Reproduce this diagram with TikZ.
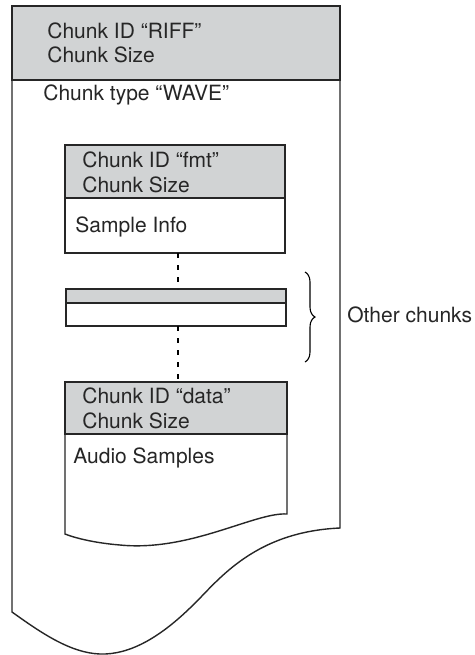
\documentclass[tikz,border=0pt]{standalone}
\usepackage{fontspec}
\setmainfont{TeX Gyre Heros}
\usetikzlibrary{decorations.pathreplacing}
\definecolor{hdrgray}{RGB}{209,211,212}
\tikzset{
  hdr/.style={fill=hdrgray, draw=black!85, line width=0.8pt},
  body/.style={fill=white, draw=black!85, line width=0.7pt},
  lbl/.style={anchor=base west, inner sep=0pt, font=\fontsize{10.5}{12}\selectfont, text=black!85},
  gap/.style={dash pattern=on 2.5pt off 3.5pt, line width=0.6pt},
}
\begin{document}
\begin{tikzpicture}[x=0.5pt,y=-0.5pt]
\useasboundingbox (0,0) rectangle (475,655);
% outer RIFF chunk
\draw[body] (12,80) -- (340,80) -- (340,528)
  .. controls (250,532) and (215,585) .. (190,608)
  .. controls (160,637) and (130,655) .. (100,654)
  .. controls (70,653) and (40,632) .. (12,612) -- cycle;
\draw[hdr] (12,6) rectangle (340,80);
\node[lbl] (riffid) at (47,38) {Chunk ID “RIFF”};
\node[lbl] (riffsize) at (47,62) {Chunk Size};
\node[lbl] (wave) at (43,100) {Chunk type “WAVE”};
% fmt chunk
\draw[body] (65,198) rectangle (285,253);
\draw[hdr] (65,145) rectangle (285,198);
\node[lbl] (fmtid) at (82,167) {Chunk ID “fmt”};
\node[lbl] (fmtsize) at (82,192) {Chunk Size};
\node[lbl] (info) at (75,232) {Sample Info};
\coordinate (fmtbot) at (178,253);
% other chunks
\draw[body] (66,303) rectangle (286,326);
\draw[hdr] (66,289) rectangle (286,303);
\coordinate (othtop) at (178,289);
\coordinate (othbot) at (178,326);
\coordinate (bracetop) at (305,272);
\coordinate (bracebot) at (305,362);
\draw[decorate, decoration={brace, amplitude=5pt}, line width=0.55pt] (bracetop) -- (bracebot);
\node[lbl] (other) at (347,322) {Other chunks};
% data chunk
\draw[body] (65,434) -- (287,434) -- (287,514)
  .. controls (255,512) and (190,552) .. (120,545)
  .. controls (95,543) and (75,538) .. (65,534) -- cycle;
\draw[hdr] (65,382) rectangle (287,434);
\node[lbl] (dataid) at (82,403) {Chunk ID “data”};
\node[lbl] (datasize) at (82,428) {Chunk Size};
\node[lbl] (audio) at (73,463) {Audio Samples};
\coordinate (datatop) at (178,382);
\draw[gap] (fmtbot) -- (othtop);
\draw[gap] (othbot) -- (datatop);
\end{tikzpicture}
\end{document}
